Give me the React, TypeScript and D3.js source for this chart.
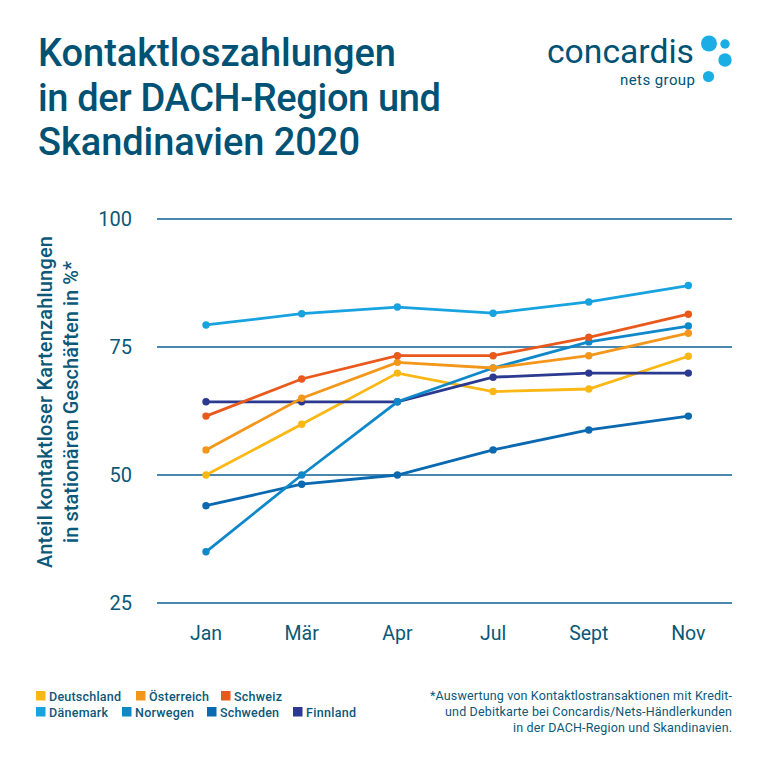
import * as d3 from 'd3';

const months = ['Jan', 'Mär', 'Apr', 'Jul', 'Sept', 'Nov'];
// the last column sits a little further out than the others in the original
const monthSlots = [0, 1, 2, 3, 4, 5.04];
const yTicks = [25, 50, 75, 100];

const deutschland = [50, 59.9, 69.9, 66.3, 66.8, 73.2];
const oesterreich = [54.9, 65, 72, 70.9, 73.3, 77.7];
const schweiz = [61.5, 68.75, 73.3, 73.3, 76.9, 81.4];
const daenemark = [79.3, 81.5, 82.8, 81.6, 83.8, 87];
const norwegen = [35, 50, 64.3, 70.9, 76, 79.1];
const schweden = [44, 48.2, 50, 54.9, 58.8, 61.5];
const finnland = [64.3, 64.3, 64.3, 69.1, 69.9, 69.9];

const TEXT = '#0b5878';
const TITLE = '#005274';
const GRID = '#0a5f96';
const FONT = 'Roboto, sans-serif';

const series = [
  { name: 'Schweden', values: schweden, color: '#0a69b0' },
  { name: 'Deutschland', values: deutschland, color: '#fbb713' },
  { name: 'Finnland', values: finnland, color: '#2b3990' },
  { name: 'Dänemark', values: daenemark, color: '#17a2e0' },
  { name: 'Norwegen', values: norwegen, color: '#0f88c9' },
  { name: 'Österreich', values: oesterreich, color: '#f3971b' },
  { name: 'Schweiz', values: schweiz, color: '#e9591c' },
];

const legendRows = [
  [
    { name: 'Deutschland', color: '#fbb713', x: 36, w: 72 },
    { name: 'Österreich', color: '#f3971b', x: 136, w: 60 },
    { name: 'Schweiz', color: '#e9591c', x: 221, w: 48 },
  ],
  [
    { name: 'Dänemark', color: '#17a2e0', x: 36, w: 59 },
    { name: 'Norwegen', color: '#0f88c9', x: 122, w: 59 },
    { name: 'Schweden', color: '#0a69b0', x: 207, w: 59 },
    { name: 'Finnland', color: '#2b3990', x: 293, w: 50 },
  ],
];

const titleLines = [
  { text: 'Kontaktloszahlungen', w: 358 },
  { text: 'in der DACH-Region und', w: 403 },
  { text: 'Skandinavien 2020', w: 322 },
];
const yLabelLines = [
  { text: 'Anteil kontaktloser Kartenzahlungen', w: 332, x: 52 },
  { text: 'in stationären Geschäften in %*', w: 282, x: 77.5 },
];
const noteLines = [
  { text: '*Auswertung von Kontaktlostransaktionen mit Kredit-', w: 302 },
  { text: 'und Debitkarte bei Concardis/Nets-Händlerkunden', w: 287 },
  { text: 'in der DACH-Region und Skandinavien.', w: 219 },
];

export default function App() {
  const x = d3.scaleLinear().domain([0, 5]).range([206, 684.5]);
  const y = d3.scaleLinear().domain([25, 100]).range([603, 219]);
  const line = d3
    .line<number>()
    .x((_, i) => x(monthSlots[i]))
    .y((d) => y(d));

  return (
    <svg
      width={768}
      height={768}
      style={{ position: 'absolute', left: 0, top: 0, display: 'block', background: '#fff' }}
      fontFamily={FONT}
    >
      {titleLines.map((t, i) => (
        <text key={t.text} x={38} y={66 + i * 44.5} fontSize={38} fontWeight={500} fill={TITLE} textLength={t.w}>
          {t.text}
        </text>
      ))}

      {/* logo */}
      <text x={547} y={63} fontSize={34} fontWeight={400} fill={TITLE} textLength={147} lengthAdjust="spacingAndGlyphs">
        concardis
      </text>
      <text x={695} y={85} fontSize={15} fontWeight={400} fill={TITLE} textAnchor="end" textLength={75}>
        nets group
      </text>
      <circle cx={709} cy={43.5} r={8} fill="#1aaee5" />
      <circle cx={725} cy={44} r={4.7} fill="#1aaee5" />
      <circle cx={725} cy={60} r={6.7} fill="#1aaee5" />
      <circle cx={708.5} cy={76.5} r={5.6} fill="#1aaee5" />

      {yTicks.map((t) => (
        <g key={t}>
          <line x1={157} x2={732} y1={y(t)} y2={y(t)} stroke={GRID} strokeWidth={1.6} />
          <text x={132} y={y(t) + 7} fontSize={20} fontWeight={400} fill={TEXT} textAnchor="end">
            {t}
          </text>
        </g>
      ))}

      {months.map((m, i) => (
        <text key={m} x={x(monthSlots[i])} y={640} fontSize={19.5} fontWeight={400} fill={TEXT} textAnchor="middle">
          {m}
        </text>
      ))}

      {yLabelLines.map((l) => (
        <text
          key={l.text}
          transform={`translate(${l.x},402) rotate(-90)`}
          fontSize={20}
          fontWeight={500}
          fill={TEXT}
          textAnchor="middle"
          textLength={l.w}
        >
          {l.text}
        </text>
      ))}

      {series.map((s) => (
        <g key={s.name}>
          <path d={line(s.values) ?? ''} fill="none" stroke={s.color} strokeWidth={2.8} />
          {s.values.map((v, i) => (
            <circle key={months[i]} cx={x(monthSlots[i])} cy={y(v)} r={3.7} fill={s.color} />
          ))}
        </g>
      ))}

      {legendRows.map((row, r) =>
        row.map((item) => (
          <g key={item.name}>
            <rect x={item.x} y={691 + r * 16} width={9.5} height={9.5} fill={item.color} />
            <text x={item.x + 13} y={700.5 + r * 16} fontSize={12.5} fontWeight={500} fill={TEXT} textLength={item.w}>
              {item.name}
            </text>
          </g>
        )),
      )}

      {noteLines.map((t, i) => (
        <text key={t.text} x={732} y={699.5 + i * 16.3} fontSize={12.5} fontWeight={400} fill={TEXT} textAnchor="end" textLength={t.w}>
          {t.text}
        </text>
      ))}
    </svg>
  );
}
